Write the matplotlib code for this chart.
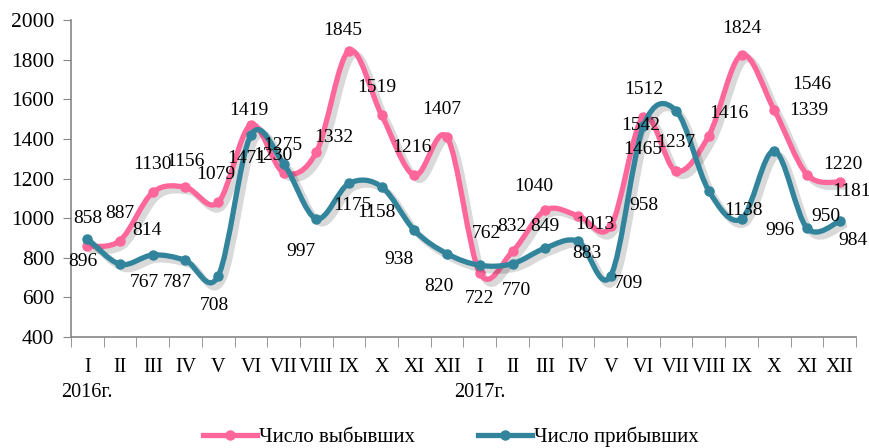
import numpy as np
import matplotlib
matplotlib.use('Agg')
import matplotlib.pyplot as plt
from matplotlib.path import Path
from matplotlib.patches import PathPatch
from matplotlib.lines import Line2D
import matplotlib.patheffects as pe

months = ['I', 'II', 'III', 'IV', 'V', 'VI', 'VII', 'VIII', 'IX', 'X', 'XI', 'XII']
years = ['2016г.', '2017г.']
departed = [858, 887, 1130, 1156, 1079, 1471, 1230, 1332, 1845, 1519, 1216, 1407,
            722, 832, 1040, 1013, 958, 1512, 1237, 1416, 1824, 1546, 1220, 1181]
arrived = [896, 767, 814, 787, 708, 1419, 1275, 997, 1175, 1158, 938, 820,
           762, 770, 849, 883, 709, 1465, 1542, 1138, 996, 1339, 950, 984]
series_names = ['Число выбывших', 'Число прибывших']

# label offsets in pixels (dx, dy)
off_dep = [(0, 28), (0, 27), (0, 28), (0, 26), (-2, 28), (-4, -34), (-11, 17), (18, 15),
           (-6, 20), (-5, 28), (-3, 28), (-5, 28), (0, -25), (-1, 25), (-11, 24), (17, -9),
           (33, 21), (0, 27), (0, 29), (20, 22), (0, 26), (37, 25), (36, 10), (12, -9)]
off_arr = [(-4, -23), (24, -18), (-6, 24), (-8, -22), (-4, -30), (-2, 25), (-1, 18), (-15, -33),
           (3, -22), (-5, -26), (-15, -29), (-8, -33), (7, 32), (4, -27), (0, 22), (9, -12),
           (18, -8), (-1, -24), (-35, -15), (35, -20), (38, -12), (35, 40), (19, 12), (13, -19)]

PINK = '#FF6699'
TEAL = '#31849B'
FONT = 'Liberation Serif'

plt.rcParams['font.family'] = [FONT, 'DejaVu Serif']

fig = plt.figure(figsize=(8.7, 4.48), dpi=100)
ax = fig.add_axes([71 / 870, 1 - 337 / 448, (856 - 71) / 870, (337 - 20) / 448])


def smooth_path(xs, ys):
    pts = np.column_stack([xs, ys]).astype(float)
    n = len(pts)
    verts = [pts[0]]
    codes = [Path.MOVETO]
    for i in range(n - 1):
        p0 = pts[max(i - 1, 0)]
        p1 = pts[i]
        p2 = pts[i + 1]
        p3 = pts[min(i + 2, n - 1)]
        c1 = p1 + (p2 - p0) / 6.0
        c2 = p2 - (p3 - p1) / 6.0
        verts += [c1, c2, p2]
        codes += [Path.CURVE4] * 3
    return Path(verts, codes)


x = np.arange(len(departed))
for vals, col, offs, z in [(departed, PINK, off_dep, 2), (arrived, TEAL, off_arr, 3)]:
    patch = PathPatch(smooth_path(x, vals), facecolor='none', edgecolor=col, lw=3.8,
                      capstyle='round', joinstyle='round', zorder=z,
                      path_effects=[pe.SimpleLineShadow(offset=(3, -3), shadow_color='k', alpha=0.15,
                                                        linewidth=5),
                                    pe.Normal()])
    ax.add_patch(patch)
    ax.plot(x, vals, 'o', ms=6.5, color=col, zorder=z + 0.1)
    for i, v in enumerate(vals):
        ax.annotate(str(v), (i, v), xytext=offs[i], textcoords='offset pixels',
                    ha='center', va='center', fontsize=14, color='black', zorder=5)

ax.set_xlim(-0.5, len(departed) - 0.5)
ax.set_ylim(400, 2000)
ax.set_yticks(np.arange(400, 2001, 200))
ax.tick_params(axis='y', direction='out', length=6, color='#868686', labelsize=15.5, pad=6)

labels = []
for i in range(len(departed)):
    m = months[i % 12]
    if i % 12 == 0:
        labels.append(m + '\n' + years[i // 12])
    else:
        labels.append(m)
ax.set_xticks(x)
ax.set_xticklabels(labels, fontsize=14.5, linespacing=1.45, va='top')
ax.set_xticks(np.arange(-0.5, len(departed)), minor=True)
ax.tick_params(axis='x', which='major', length=0, pad=15)
ax.tick_params(axis='x', which='minor', length=7, color='#868686', direction='out')

for s in ['top', 'right']:
    ax.spines[s].set_visible(False)
for s in ['left', 'bottom']:
    ax.spines[s].set_color('#868686')
    ax.spines[s].set_linewidth(1.2)

handles = [Line2D([], [], color=PINK, lw=3.8, marker='o', ms=6.5),
           Line2D([], [], color=TEAL, lw=3.8, marker='o', ms=6.5)]
fig.legend(handles, series_names, loc='center', bbox_to_anchor=(451 / 870, 1 - 437 / 448),
           ncol=2, frameon=False, fontsize=15, handlelength=2.6, handletextpad=0.1,
           columnspacing=3.0)

fig.savefig('out.png', dpi=100)
